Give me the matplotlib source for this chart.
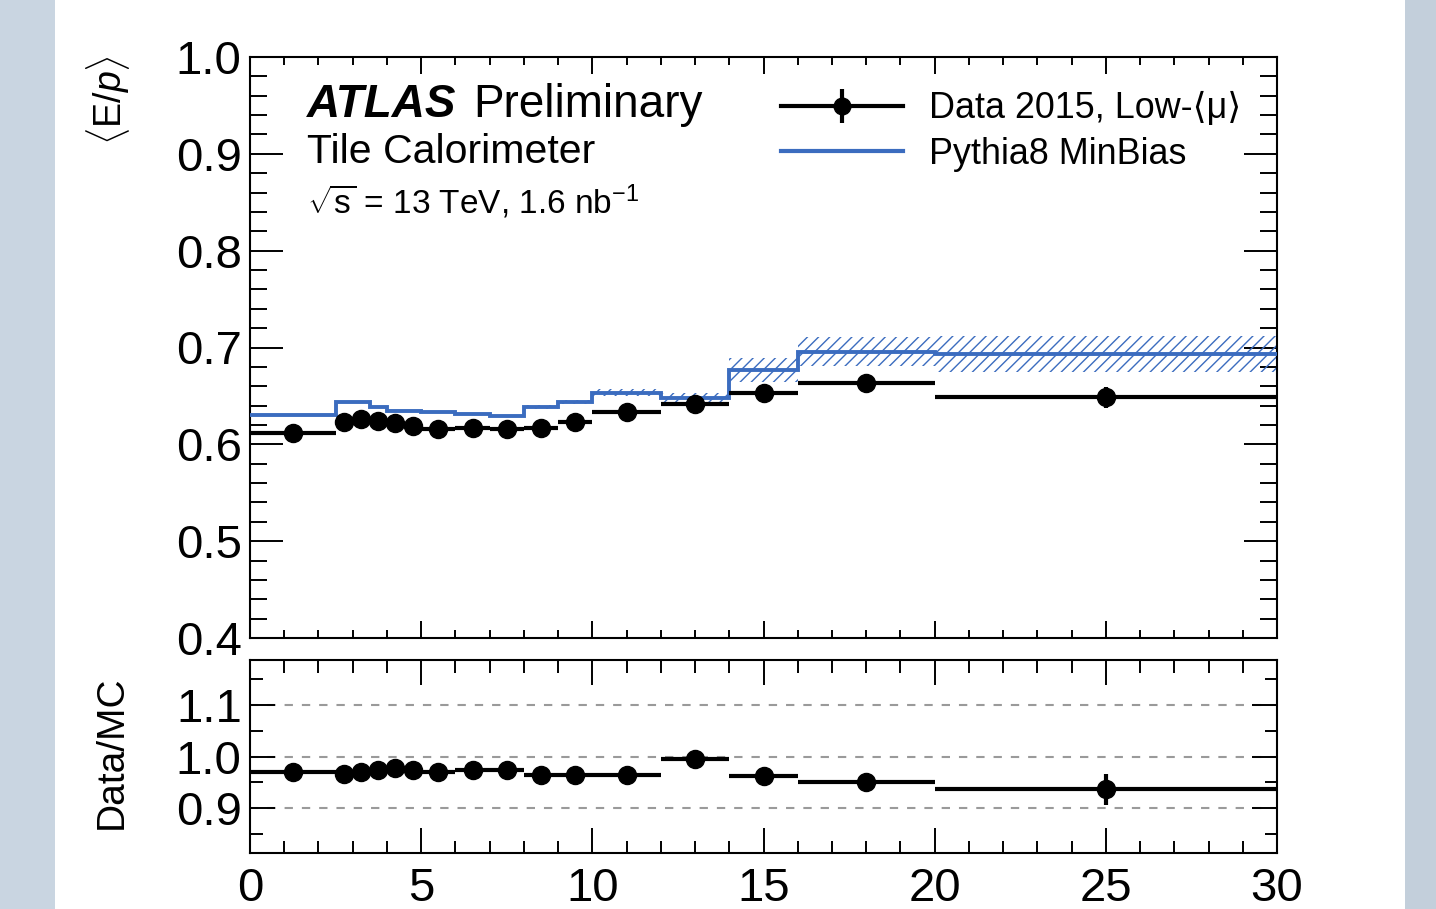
import numpy as np
import matplotlib
matplotlib.use("Agg")
import matplotlib.pyplot as plt
from matplotlib.lines import Line2D
from matplotlib.legend_handler import HandlerTuple
from matplotlib.ticker import MultipleLocator
from matplotlib.patches import Rectangle

# Fonts (Helvetica-like)
plt.rcParams['font.family'] = ['Liberation Sans', 'DejaVu Sans']
plt.rcParams['mathtext.fontset'] = 'custom'
plt.rcParams['mathtext.rm'] = 'Liberation Sans'
plt.rcParams['mathtext.it'] = 'Liberation Sans:italic'
plt.rcParams['mathtext.bf'] = 'Liberation Sans:bold'
BLUE = '#3b6cbf'
plt.rcParams['hatch.color'] = BLUE
plt.rcParams['hatch.linewidth'] = 1.0

# Data
bin_edges = [0, 2.5, 3, 3.5, 4, 4.5, 5, 6, 7, 8, 9, 10, 12, 14, 16, 20, 30]
data_x = [1.25, 2.75, 3.25, 3.75, 4.25, 4.75, 5.5, 6.5, 7.5, 8.5, 9.5, 11, 13, 15, 18, 25]
data_ep = [0.612, 0.6234, 0.6259, 0.6241, 0.6217, 0.619, 0.6155, 0.6172, 0.6155, 0.6166,
           0.6228, 0.6337, 0.6417, 0.6527, 0.663, 0.6486]
data_err = [0.002, 0.002, 0.002, 0.002, 0.002, 0.002, 0.002, 0.002, 0.002, 0.002,
            0.002, 0.002, 0.003, 0.004, 0.005, 0.011]
mc_ep = [0.6303, 0.644, 0.644, 0.6388, 0.6347, 0.6347, 0.633, 0.6313, 0.6296, 0.6389,
         0.644, 0.6535, 0.6477, 0.6768, 0.6957, 0.6932]
mc_err = [0.001, 0.001, 0.001, 0.001, 0.001, 0.001, 0.001, 0.001, 0.001, 0.002,
          0.002, 0.004, 0.005, 0.012, 0.015, 0.019]
ratio = [0.971, 0.967, 0.971, 0.974, 0.978, 0.974, 0.971, 0.974, 0.974, 0.964,
         0.964, 0.964, 0.996, 0.962, 0.950, 0.937]
ratio_err = [0.003, 0.003, 0.003, 0.003, 0.003, 0.003, 0.003, 0.003, 0.003, 0.003,
             0.003, 0.004, 0.005, 0.012, 0.015, 0.03]

edges = np.array(bin_edges)
xs = np.array(data_x)
xerr = [xs - edges[:-1], edges[1:] - xs]

W, H = 1436, 909
fig = plt.figure(figsize=(W / 100, H / 100), dpi=100)
fig.patch.set_facecolor('white')
# bluish side strips of the slide background
fig.patches.append(Rectangle((0, 0), 55 / W, 1, transform=fig.transFigure,
                             facecolor='#c9d5e1', edgecolor='none', zorder=-5))
fig.patches.append(Rectangle((1405 / W, 0), 31 / W, 1, transform=fig.transFigure,
                             facecolor='#c3cfdb', edgecolor='none', zorder=-5))

ax = fig.add_axes([250 / W, 1 - 638 / H, 1027 / W, 581 / H])
rax = fig.add_axes([250 / W, 1 - 853 / H, 1027 / W, 193 / H])

# Main panel
lo = np.array(mc_ep) - np.array(mc_err)
hi = np.array(mc_ep) + np.array(mc_err)
ax.fill_between(edges, np.append(lo, lo[-1]), np.append(hi, hi[-1]), step='post',
                facecolor='none', edgecolor=BLUE, hatch='///', linewidth=0, zorder=2)
ax.stairs(mc_ep, edges, color=BLUE, lw=2.8, baseline=None, zorder=3)
ax.errorbar(xs, data_ep, xerr=xerr, yerr=data_err, fmt='o', color='black', ms=13,
            elinewidth=3, capsize=0, zorder=4)

ax.set_xlim(0, 30)
ax.set_ylim(0.4, 1.0)
ax.xaxis.set_major_locator(MultipleLocator(5))
ax.xaxis.set_minor_locator(MultipleLocator(1))
ax.yaxis.set_minor_locator(MultipleLocator(0.02))
ax.set_yticks([0.4, 0.5, 0.6, 0.7, 0.8, 0.9, 1.0])
ax.set_yticklabels(['0.4', '0.5', '0.6', '0.7', '0.8', '0.9', '1.0'])
ax.tick_params(axis='both', which='both', direction='in', top=True, right=True,
               width=1.4, labelsize=34)
ax.tick_params(axis='y', which='major', length=24, pad=6)
ax.tick_params(axis='y', which='minor', length=12)
ax.tick_params(axis='x', which='major', length=12, labelbottom=False)
ax.tick_params(axis='x', which='minor', length=6)
for s in ax.spines.values():
    s.set_linewidth(1.5)

# Ratio panel
for yv in [0.9, 1.0, 1.1]:
    rax.axhline(yv, color='#9a9a9a', lw=1.5, ls=(0, (4, 4.3)), zorder=1)
rax.errorbar(xs, ratio, xerr=xerr, yerr=ratio_err, fmt='o', color='black', ms=13,
             elinewidth=3, capsize=0, zorder=4)
rax.set_xlim(0, 30)
rax.set_ylim(0.814, 1.186)
rax.set_yticks([0.9, 1.0, 1.1])
rax.set_yticklabels(['0.9', '1.0', '1.1'])
rax.yaxis.set_minor_locator(MultipleLocator(0.05))
rax.set_xticks([0, 5, 10, 15, 20, 25, 30])
rax.set_xticklabels(['0', '5', '10', '15', '20', '25', '30'])
rax.xaxis.set_minor_locator(MultipleLocator(1))
rax.tick_params(axis='both', which='both', direction='in', top=True, right=True,
                width=1.4, labelsize=34)
rax.tick_params(axis='y', which='major', length=18, pad=6)
rax.tick_params(axis='y', which='minor', length=9)
rax.tick_params(axis='x', which='major', length=18, pad=10)
rax.tick_params(axis='x', which='minor', length=9)
for s in rax.spines.values():
    s.set_linewidth(1.5)

# Axis titles
fig.text(108 / W, 1 - 55 / H, r'$\langle\mathrm{E}/p\rangle$', rotation=90,
         ha='center', va='top', fontsize=27)
fig.text(112 / W, 1 - 752 / H, 'Data/MC', rotation=90, ha='center', va='center',
         fontsize=28)

# Labels
fig.text(307 / W, 1 - 117 / H, 'ATLAS', fontsize=33, fontweight='bold',
         fontstyle='italic', ha='left', va='baseline')
fig.text(473 / W, 1 - 117 / H, 'Preliminary', fontsize=33, ha='left', va='baseline')
fig.text(307 / W, 1 - 163 / H, 'Tile Calorimeter', fontsize=29.5, ha='left',
         va='baseline')
fig.text(307 / W, 1 - 214 / H, r'$\sqrt{\mathrm{s}}$ = 13 TeV, 1.6 nb$^{\mathrm{-1}}$',
         fontsize=24, ha='left', va='baseline')

# Legend
h_data = (Line2D([], [], color='black', lw=3),
          Line2D([], [], color='black', marker='o', ms=12, ls='none'),
          Line2D([], [], color='black', marker='|', ms=24, mew=3, ls='none'))
h_mc = Line2D([], [], color=BLUE, lw=3)
ax.legend([h_data, h_mc], ['Data 2015, Low-⟨μ⟩', 'Pythia8 MinBias'],
          handler_map={tuple: HandlerTuple(ndivide=1, pad=0)},
          loc='upper left', bbox_to_anchor=(0.517, 0.941), frameon=False,
          fontsize=25.8, handlelength=3.4, handletextpad=0.72, labelspacing=0.3,
          borderaxespad=0, borderpad=0)

fig.savefig('out.png', dpi=100)
